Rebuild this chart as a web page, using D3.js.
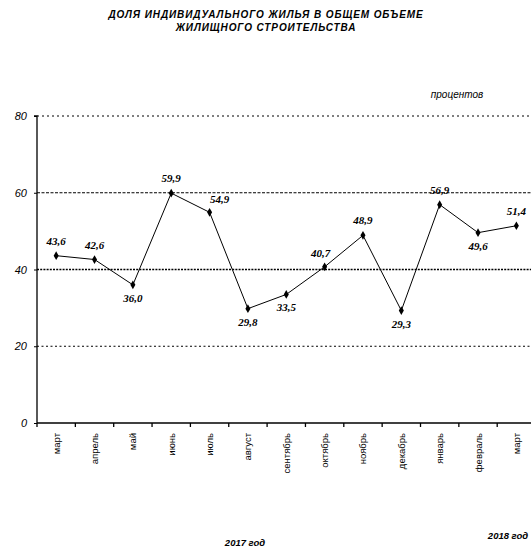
<!DOCTYPE html>
<html><head><meta charset="utf-8">
<script src="https://cdn.jsdelivr.net/npm/d3@7"></script>
<style>body{margin:0;background:#fff}svg{display:block}</style>
</head><body>
<svg id="c" width="531" height="549"></svg>
<script>
const months = ["март","апрель","май","июнь","июль","август","сентябрь","октябрь","ноябрь","декабрь","январь","февраль","март"];
const values = [43.6,42.6,36.0,59.9,54.9,29.8,33.5,40.7,48.9,29.3,56.9,49.6,51.4];
const valueLabels = ["43,6","42,6","36,0","59,9","54,9","29,8","33,5","40,7","48,9","29,3","56,9","49,6","51,4"];
const labelPos = ["above","above","below","above","aboveRight","below","below","aboveLeft","above","below","above","below","above"];
const yTicks = [0,20,40,60,80];
const titleLines = ["ДОЛЯ ИНДИВИДУАЛЬНОГО ЖИЛЬЯ В ОБЩЕМ ОБЪЕМЕ","ЖИЛИЩНОГО СТРОИТЕЛЬСТВА"];

const svg = d3.select("#c");
const m = {l:37, t:116, b:423};
const x = d3.scaleBand().domain(d3.range(months.length)).range([m.l, m.l + 38.35*months.length]).padding(0);
const y = d3.scaleLinear().domain([0,80]).range([m.b, m.t]);

// title
svg.selectAll("text.title").data(titleLines).join("text")
  .attr("x",266).attr("y",(d,i)=>18+i*13).attr("text-anchor","middle")
  .attr("font-family","Liberation Sans, Arial, sans-serif").attr("font-size",10)
  .attr("letter-spacing",0.9)
  .attr("font-weight","bold").attr("font-style","italic").text(d=>d);

svg.append("text").attr("x",457).attr("y",98).attr("text-anchor","middle")
  .attr("font-family","Liberation Sans, Arial, sans-serif").attr("font-size",10).attr("font-style","italic")
  .text("процентов");

// grid
const gridStyle = {80:"2,3",60:"3,1.5",40:"2,1.2",20:"2,2.5"};
const gridWidth = {80:1,60:1,40:1.6,20:1};
svg.selectAll("line.grid").data(yTicks.filter(d=>d>0)).join("line")
  .attr("x1",m.l).attr("x2",531).attr("y1",d=>y(d)).attr("y2",d=>y(d))
  .attr("stroke","#000").attr("stroke-width",d=>gridWidth[d]).attr("stroke-dasharray",d=>gridStyle[d]);

// y axis
const ya = svg.append("g").attr("transform",`translate(${m.l},0)`)
  .call(d3.axisLeft(y).tickValues(yTicks).tickSize(3).tickFormat(d3.format("d")));
ya.select(".domain").attr("stroke-width",1.3).attr("d",`M-3,${y(80)}H0V${y(0)}`);
ya.selectAll("text").attr("font-family","Liberation Sans, Arial, sans-serif").attr("font-size",11)
  .attr("font-style","italic").attr("dx",-4);

// x axis
const xa = svg.append("g").attr("transform",`translate(0,${m.b})`);
xa.append("line").attr("x1",m.l).attr("x2",531).attr("stroke","#000").attr("stroke-width",1.5);
xa.selectAll("line.tk").data(d3.range(months.length)).join("line")
  .attr("x1",d=>x(d)).attr("x2",d=>x(d)).attr("y1",0).attr("y2",4).attr("stroke","#000").attr("stroke-width",1.3);
xa.selectAll("text").data(months).join("text")
  .attr("transform",(d,i)=>`translate(${x(i)+x.bandwidth()/2+3.5},10) rotate(-90)`)
  .attr("text-anchor","end").attr("font-family","Liberation Sans, Arial, sans-serif").attr("font-size",9.5)
  .text(d=>d);

// line
const line = d3.line().x((d,i)=>x(i)+x.bandwidth()/2).y(d=>y(d));
svg.append("path").datum(values).attr("d",line).attr("fill","none").attr("stroke","#000").attr("stroke-width",1);
svg.selectAll("path.mk").data(values).join("path")
  .attr("transform",(d,i)=>`translate(${x(i)+x.bandwidth()/2},${y(d)})`)
  .attr("d",d3.symbol(d3.symbolDiamond,22)).attr("fill","#000");

const off = {above:[0,-11],below:[0,17],aboveRight:[10,-9],aboveLeft:[-4,-10]};
svg.selectAll("text.val").data(values).join("text")
  .attr("x",(d,i)=>x(i)+x.bandwidth()/2+off[labelPos[i]][0])
  .attr("y",(d,i)=>y(d)+off[labelPos[i]][1])
  .attr("text-anchor","middle").attr("font-family","Liberation Serif, Times New Roman, serif")
  .attr("font-size",11).attr("font-weight","bold").attr("font-style","italic")
  .text((d,i)=>valueLabels[i]);

svg.append("text").attr("x",245).attr("y",546).attr("text-anchor","middle")
  .attr("font-family","Liberation Sans, Arial, sans-serif").attr("font-size",9.5).attr("font-weight","bold").attr("font-style","italic")
  .text("2017 год");
svg.append("text").attr("x",508).attr("y",539).attr("text-anchor","middle")
  .attr("font-family","Liberation Sans, Arial, sans-serif").attr("font-size",9.5).attr("font-weight","bold").attr("font-style","italic")
  .text("2018 год");
</script>
</body></html>
